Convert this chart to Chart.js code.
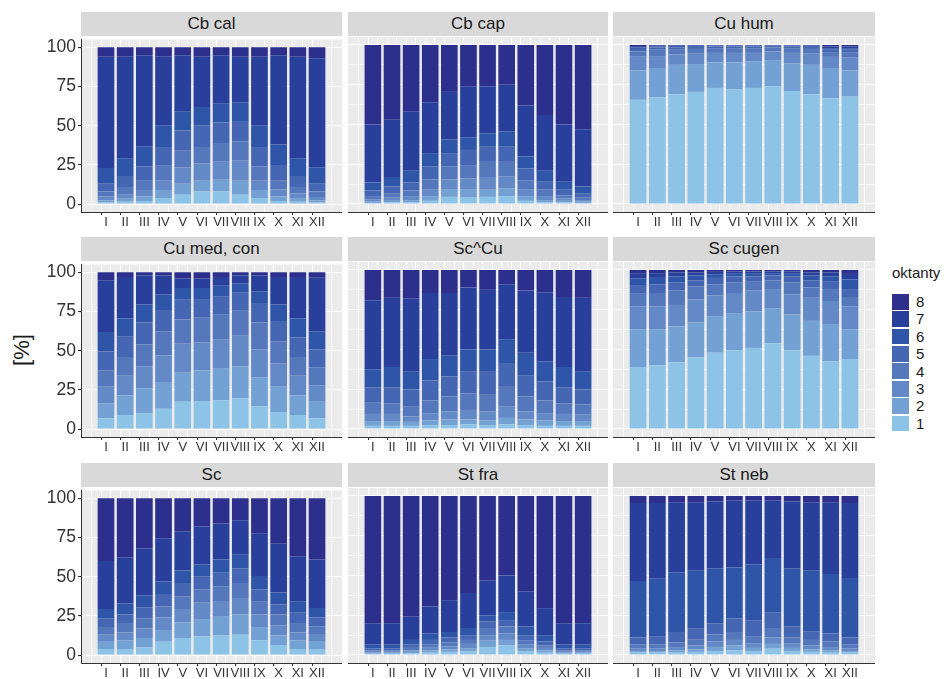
<!DOCTYPE html>
<html>
<head>
<meta charset="utf-8">
<script src="https://cdn.jsdelivr.net/npm/chart.js@4.4.0/dist/chart.umd.min.js"></script>
<style>
    body { margin: 0; background: #fff; font-family: "Liberation Sans", Arial, sans-serif; }
    #page { position: relative; width: 952px; height: 679px; overflow: hidden; }
    .strip { position: absolute; background: #D9D9D9; color: #1A1A1A; font-size: 17px; text-align: center; }
    .panel { position: absolute; }
    .ytitle { position: absolute; left: 22px; top: 350px; font-size: 22px; color: #1A1A1A;
              transform: translate(-50%, -50%) rotate(-90deg); white-space: nowrap; }
    .legend-title { position: absolute; left: 892px; top: 264px; font-size: 15px; color: #1A1A1A; }
    .key { position: absolute; left: 892px; width: 17px; }
    .key-label { position: absolute; left: 916px; font-size: 15px; color: #1A1A1A; }
</style>
</head>
<body>
<div id="page"></div>
<script>
// Categories
const months = ['I', 'II', 'III', 'IV', 'V', 'VI', 'VII', 'VIII', 'IX', 'X', 'XI', 'XII'];
const octants = ['1', '2', '3', '4', '5', '6', '7', '8'];
const panelNames = ['Cb cal', 'Cb cap', 'Cu hum', 'Cu med, con', 'Sc^Cu', 'Sc cugen', 'Sc', 'St fra', 'St neb'];

// Octant colours, 1 (light) to 8 (dark)
const octantColors = ['#8DC3E6', '#74A1D4', '#6389C6', '#5577BC', '#4566B2', '#2F55A8', '#28409C', '#2C2F8C'];

// Y tick labels
const yMajor = [0, 25, 50, 75, 100];
const yMinor = [12.5, 37.5, 62.5, 87.5];

// Upper edge (%) of octant classes 1..7 per month; class 8 reaches 100
const cbCal = [
    [1, 1.5, 2, 4, 6, 8, 8, 6, 4, 2, 1.5, 1],
    [2.5, 3.5, 5, 9, 13, 15, 15.5, 15, 9, 5, 3.5, 2.5],
    [5, 6, 9, 15, 23.5, 26, 27, 28, 15, 9.5, 7, 4.5],
    [8, 11, 15, 24.5, 34, 36.5, 39, 40, 24, 15, 11, 8],
    [13, 18, 24, 36.5, 47, 50, 52, 53, 36.5, 25, 18, 13],
    [23, 29, 37, 50, 59, 62, 64, 65, 50, 38, 29, 23.5],
    [94, 94, 95, 94, 95, 94, 95, 94, 94, 95, 94, 93]
];
const cbCap = [
    [0.7, 1, 1, 2, 4.5, 4, 4.5, 5, 2, 1, 1, 0.7],
    [1.5, 2, 2.5, 5, 9, 9, 9, 10, 5, 2.5, 2, 1.5],
    [3, 4, 5, 9, 15.5, 16, 17, 17.5, 9, 5, 3.5, 2.5],
    [5, 6.5, 8.5, 15.5, 23.5, 24.5, 26.5, 26.5, 15, 9, 5.5, 4],
    [8.5, 11, 13.5, 23.5, 32, 34, 36, 36, 22.5, 14, 9, 6.5],
    [13.5, 17, 21, 32, 40.5, 42, 44.5, 45.5, 30, 21, 14, 11],
    [50, 53, 58, 64, 70.5, 74, 74, 75, 62, 56, 50, 47]
];
const cuHum = [
    [65.5, 67, 69, 70.5, 73, 72, 73, 74, 71, 69, 66.5, 67.5],
    [84, 85, 87.5, 88, 89, 89, 89.5, 90.5, 88.5, 87.5, 85, 84],
    [93, 93, 94, 94.5, 95, 95, 95, 96, 95, 94.5, 92.5, 92],
    [96, 97, 97, 97.5, 98, 98, 98, 98.5, 98, 97.5, 95.5, 95.5],
    [97.5, 98.5, 98.5, 98.8, 99, 99, 99, 99.3, 99, 98.8, 97, 97],
    [98.5, 99.2, 99.3, 99.4, 99.5, 99.5, 99.5, 99.6, 99.5, 99.4, 98, 98],
    [99.3, 99.6, 99.7, 99.8, 99.8, 99.8, 99.8, 99.9, 99.8, 99.7, 99, 99]
];
const cuMedCon = [
    [7, 9, 10, 13, 17.5, 18, 18.5, 19.5, 14.5, 11, 9, 7],
    [16.5, 21.5, 26, 30, 36, 37.5, 38.5, 40, 33, 27, 21.5, 17.5],
    [27, 34, 40, 47, 54.5, 55.5, 57, 59.5, 51, 42, 34, 28],
    [37.5, 46, 54, 62.5, 70, 71, 73, 75.5, 68, 56, 46, 39.5],
    [49.5, 59, 68, 76, 82.5, 83, 84.5, 87, 80.5, 69, 58.5, 51],
    [62, 70.5, 79.5, 86, 90, 90, 91.5, 93, 88, 79.5, 70.5, 62.5],
    [95, 97, 98, 98, 96, 96, 97, 98, 98, 97, 97, 96.5]
];
const scCu = [
    [2, 2, 2, 2.5, 2.5, 3, 2.5, 3, 2.5, 2, 2, 2],
    [5, 5, 4.5, 5.5, 6, 6, 5.5, 7, 6, 5.5, 5, 5],
    [9.5, 9.5, 8, 10, 11, 12, 11, 14, 11, 10, 9.5, 9],
    [16.5, 16, 14, 18, 20.5, 22.5, 21.5, 26.5, 20.5, 18, 16, 15.5],
    [26, 26, 25, 30.5, 33, 36, 36.5, 41.5, 33.5, 30, 26, 25],
    [37.5, 39, 36, 44, 46, 50, 50, 56.5, 48, 42.5, 39, 36],
    [81, 82.5, 82, 85.5, 85.5, 89, 87.5, 91, 87, 86, 83, 82.5]
];
const scCugen = [
    [39, 40, 42, 45, 48, 49.5, 51, 54, 49.5, 46, 42.5, 44],
    [62.5, 62.5, 64.5, 67, 71, 72.5, 74, 76, 72, 68, 66, 62.5],
    [77, 77, 78, 81.5, 84, 85.5, 87, 88, 84.5, 82.5, 80.5, 77],
    [85, 85.5, 87, 89.5, 91, 92, 93, 93.5, 92, 89, 88, 83],
    [90, 91, 92, 93.5, 95, 96, 96, 96.5, 96, 93.5, 93, 88],
    [94.5, 95, 96, 96.5, 97, 98, 98, 98, 98, 96.5, 96, 94],
    [98, 98, 98.5, 98.5, 98.8, 99, 99, 99, 99, 98.5, 98.5, 97.5]
];
const sc = [
    [4, 4, 5, 8.5, 11, 12, 12.5, 13, 9.5, 6.5, 4, 4],
    [9, 9.5, 11, 16, 21, 23, 24.5, 26, 18, 12.5, 9.5, 9],
    [13, 14.5, 17, 24, 29.5, 33.5, 34.5, 36.5, 26, 19, 14.5, 13.5],
    [18, 20.5, 23.5, 31, 37.5, 42, 44, 46, 34, 26, 20.5, 18.5],
    [23.5, 26, 30.5, 39, 46, 50, 52.5, 55.5, 42, 32.5, 27, 24],
    [29.5, 33, 38, 47, 54, 58, 61, 64, 50.5, 40, 34, 30],
    [60, 62.5, 68, 74.5, 79, 82, 84, 86, 77.5, 71, 63, 61]
];
const stFra = [
    [0.8, 0.8, 1, 1.5, 2, 2.5, 5, 6, 2.5, 1.5, 0.8, 0.8],
    [1.5, 1.5, 2, 3, 3.5, 4, 9, 9.5, 4, 3, 1.5, 1.5],
    [2, 2, 3, 5, 5.5, 7, 12.5, 13.5, 6.5, 4.5, 2, 2],
    [3, 3, 4.5, 6.5, 8, 9.5, 17, 18, 9, 6, 3, 3],
    [4, 4, 6.5, 9.5, 11, 12.5, 21, 22, 12.5, 8.5, 4, 4],
    [6.5, 6.5, 9.5, 13.5, 14.5, 17, 25, 27, 18, 12.5, 6.5, 6.5],
    [20, 20, 24, 30.5, 34.5, 39, 47, 50, 40, 29.5, 20, 20]
];
const stNeb = [
    [1.5, 1.5, 1.5, 2, 2.5, 3, 2.5, 4, 2.5, 2, 1.5, 1.5],
    [2.5, 2.5, 3, 3.5, 5, 6, 4.5, 7, 4.5, 3.5, 3, 2.5],
    [4, 4, 5, 6, 8.5, 9.5, 7.5, 11, 7.5, 6, 5, 4],
    [6.5, 6.5, 8, 10, 13, 14.5, 11.5, 17, 11, 9.5, 8.5, 6.5],
    [11, 11.5, 14.5, 16.5, 20, 23, 21.5, 27, 18, 15, 13.5, 11],
    [46.5, 48, 52, 53, 54.5, 55, 57, 61, 54.5, 53, 51, 48.5],
    [95.5, 95.5, 96, 96, 96.5, 97, 97, 97, 96.5, 96, 96, 95.5]
];
const panelData = [cbCal, cbCap, cuHum, cuMedCon, scCu, scCugen, sc, stFra, stNeb];

// Facet grid geometry
const colLeft = [81, 348, 613];
const colWidth = [261, 260, 262];
const rowTop = [37, 262, 488];
const panelHeight = 175;
const yAxisWidth = 38;
const xAxisHeight = 22;
const topPad = 10;
const fontFamily = '"Liberation Sans", Arial, sans-serif';

const yGrid = yMajor.concat(yMinor).sort((a, b) => a - b);
// grid at each month plus the half steps between them
const xGrid = months.flatMap((m, j) => [j + 0.5, j + 1]).concat([months.length + 0.5]);

// Grey panel background like ggplot
const panelBg = {
    id: 'panelBg',
    beforeDraw(chart) {
        const { ctx, chartArea: a } = chart;
        ctx.save();
        ctx.fillStyle = '#EBEBEB';
        ctx.fillRect(a.left, a.top, a.right - a.left, a.bottom - a.top);
        ctx.restore();
    }
};

function buildDatasets(tops) {
    return octants.map((o, k) => ({
        label: o,
        data: months.map((m, j) => ({
            x: j + 1,
            y: [k === 0 ? 0 : tops[k - 1][j], k === 7 ? 100 : tops[k][j]]
        })),
        backgroundColor: octantColors[k],
        borderWidth: 0,
        grouped: false,
        // Chart.js takes the half-step grid as the sample size, so 1.74 = 0.87 of a month
        barPercentage: 1.74,
        categoryPercentage: 1
    }));
}

const page = document.getElementById('page');

function drawPanel(p) {
    const col = p % 3;
    const row = Math.floor(p / 3);
    const leftAxis = col === 0;
    const yW = leftAxis ? yAxisWidth : 0;

    const strip = document.createElement('div');
    strip.className = 'strip';
    strip.style.left = colLeft[col] + 'px';
    strip.style.top = (rowTop[row] - 25) + 'px';
    strip.style.width = colWidth[col] + 'px';
    strip.style.height = '24px';
    strip.style.lineHeight = '24px';
    strip.textContent = panelNames[p];
    page.appendChild(strip);

    const box = document.createElement('div');
    box.className = 'panel';
    box.style.left = (colLeft[col] - yW) + 'px';
    box.style.top = (rowTop[row] - topPad) + 'px';
    box.style.width = (colWidth[col] + yW) + 'px';
    box.style.height = (topPad + panelHeight + xAxisHeight) + 'px';
    const canvas = document.createElement('canvas');
    box.appendChild(canvas);
    page.appendChild(box);

    new Chart(canvas, {
        type: 'bar',
        data: { datasets: buildDatasets(panelData[p]) },
        plugins: [panelBg],
        options: {
            responsive: true,
            maintainAspectRatio: false,
            animation: false,
            layout: { padding: { top: topPad, left: 0, right: 0, bottom: 0 } },
            plugins: {
                legend: { display: false },
                tooltip: { enabled: false }
            },
            scales: {
                x: {
                    type: 'linear',
                    min: -0.03,
                    max: 13.03,
                    afterBuildTicks: s => { s.ticks = xGrid.map(v => ({ value: v })); },
                    afterFit: s => { s.height = xAxisHeight; },
                    ticks: {
                        autoSkip: false,
                        maxRotation: 0,
                        minRotation: 0,
                        padding: 0,
                        color: '#333',
                        font: { size: 13, family: fontFamily },
                        callback: v => Number.isInteger(v) ? months[v - 1] : ''
                    },
                    grid: {
                        color: '#FFFFFF',
                        lineWidth: c => (c.tick && Number.isInteger(c.tick.value)) ? 1.1 : 0.8,
                        tickColor: c => (c.tick && Number.isInteger(c.tick.value)) ? '#333' : 'rgba(0,0,0,0)',
                        tickLength: 3
                    },
                    border: { display: true, color: '#333', width: 1 }
                },
                y: {
                    type: 'linear',
                    min: -5,
                    max: 105,
                    afterBuildTicks: s => { s.ticks = yGrid.map(v => ({ value: v })); },
                    afterFit: s => { s.width = yW; },
                    ticks: {
                        display: leftAxis,
                        padding: 2,
                        color: '#333',
                        font: { size: 17.5, family: fontFamily },
                        callback: v => yMajor.includes(v) ? String(v) : ''
                    },
                    grid: {
                        color: '#FFFFFF',
                        lineWidth: c => (c.tick && yMajor.includes(c.tick.value)) ? 1.1 : 0.6,
                        drawTicks: leftAxis,
                        tickLength: 3,
                        tickColor: c => (c.tick && yMajor.includes(c.tick.value)) ? '#333' : 'rgba(0,0,0,0)'
                    },
                    border: { display: leftAxis, color: '#333', width: 1 }
                }
            }
        }
    });
}

panelNames.forEach((name, p) => drawPanel(p));

// Y axis title
const ytitle = document.createElement('div');
ytitle.className = 'ytitle';
ytitle.textContent = '[%]';
page.appendChild(ytitle);

// Legend, 8 on top
const ltitle = document.createElement('div');
ltitle.className = 'legend-title';
ltitle.textContent = 'oktanty';
page.appendChild(ltitle);

const keyTop = 293;
const keyStep = 17.4;
octants.slice().reverse().forEach((o, i) => {
    const k = octants.length - 1 - i;
    const key = document.createElement('div');
    key.className = 'key';
    key.style.top = (keyTop + i * keyStep + 0.8) + 'px';
    key.style.height = (keyStep - 1.6) + 'px';
    key.style.background = octantColors[k];
    page.appendChild(key);

    const lab = document.createElement('div');
    lab.className = 'key-label';
    lab.style.top = (keyTop + i * keyStep) + 'px';
    lab.style.lineHeight = keyStep + 'px';
    lab.textContent = o;
    page.appendChild(lab);
});
</script>
</body>
</html>
